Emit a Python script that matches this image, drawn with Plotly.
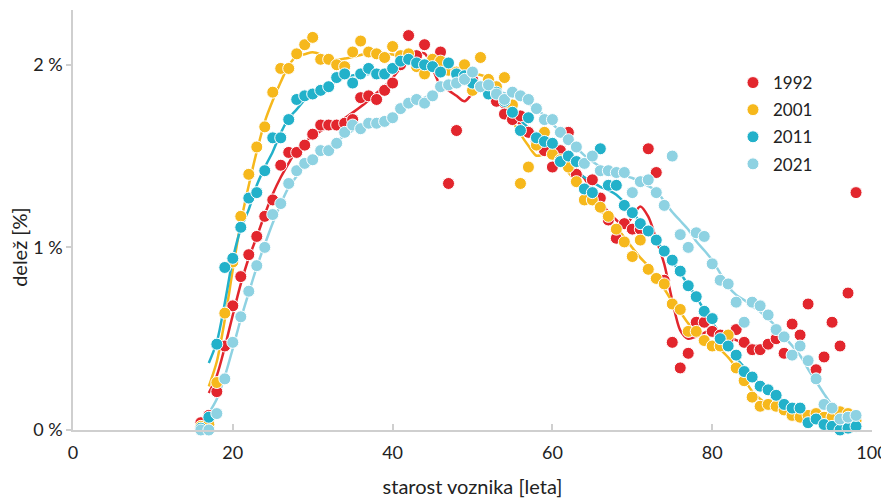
import numpy as np
import pandas as pd
import plotly.graph_objects as go

ages = list(range(16, 99))

share_1992 = [0.04, 0.08, 0.21, 0.46, 0.68, 0.84, 0.96, 1.06, 1.17, 1.26,
              1.45, 1.52, 1.52, 1.56, 1.62, 1.67, 1.67, 1.67, 1.68, 1.70,
              1.82, 1.83, 1.81, 1.86, 1.90, 2.00, 2.16, 2.05, 2.11, 2.03,
              2.07, 1.35, 1.64, 1.93, 1.92, 1.88, 1.85, 1.80, 1.73, 1.70,
              1.72, 1.63, 1.58, 1.53, 1.44, 1.53, 1.63, 1.40, 1.32, 1.37,
              1.27, 1.15, 1.05, 1.13, 1.10, 1.10, 1.54, 1.41, 0.82, 0.48,
              0.34, 0.42, 0.59, 0.59, 0.54, 0.52, 0.50, 0.55, 0.48, 0.44,
              0.44, 0.47, 0.50, 0.42, 0.58, 0.52, 0.69, 0.33, 0.40, 0.59,
              0.46, 0.75, 1.30]

share_2001 = [0.02, 0.03, 0.26, 0.64, 0.92, 1.17, 1.40, 1.55, 1.66, 1.85,
              1.98, 1.98, 2.06, 2.11, 2.15, 2.03, 2.03, 2.00, 1.99, 2.07,
              2.13, 2.07, 2.06, 2.04, 2.10, 2.05, 2.06, 1.99, 1.95, 2.03,
              2.02, 1.97, 1.96, 2.00, 1.86, 2.04, 1.92, 1.88, 1.93, 1.78,
              1.35, 1.44, 1.56, 1.63, 1.51, 1.48, 1.44, 1.36, 1.26, 1.26,
              1.22, 1.17, 1.10, 1.03, 0.95, 1.04, 0.88, 0.83, 0.80, 0.69,
              0.66, 0.54, 0.54, 0.49, 0.46, 0.46, 0.52, 0.34, 0.27, 0.18,
              0.13, 0.14, 0.13, 0.11, 0.08, 0.07, 0.08, 0.09, 0.07, 0.07,
              0.10, 0.09, 0.05]

share_2011 = [0.01, 0.07, 0.47, 0.89, 0.94, 1.11, 1.27, 1.30, 1.42, 1.60,
              1.60, 1.70, 1.81, 1.83, 1.84, 1.86, 1.88, 1.93, 1.95, 1.90,
              1.95, 1.98, 1.95, 1.95, 1.98, 2.02, 2.03, 2.01, 2.00, 1.99,
              1.96, 2.01, 1.95, 1.94, 1.90, 1.88, 1.84, 1.85, 1.80, 1.74,
              1.64, 1.71, 1.60, 1.58, 1.57, 1.47, 1.50, 1.47, 1.32, 1.30,
              1.54, 1.34, 1.34, 1.23, 1.19, 1.13, 1.09, 1.04, 0.98, 0.93,
              0.87, 0.79, 0.73, 0.65, 0.61, 0.50, 0.46, 0.41, 0.32, 0.29,
              0.24, 0.22, 0.19, 0.14, 0.12, 0.12, 0.04, 0.06, 0.03, 0.02,
              0.00, 0.01, 0.02]

share_2021 = [0.00, 0.00, 0.09, 0.28, 0.48, 0.62, 0.76, 0.90, 1.00, 1.18,
              1.24, 1.35, 1.42, 1.46, 1.48, 1.53, 1.53, 1.57, 1.63, 1.67,
              1.65, 1.68, 1.68, 1.69, 1.71, 1.76, 1.79, 1.81, 1.79, 1.83,
              1.88, 1.89, 1.90, 1.92, 1.96, 1.88, 1.89, 1.84, 1.81, 1.85,
              1.83, 1.81, 1.76, 1.70, 1.70, 1.63, 1.59, 1.55, 1.46, 1.50,
              1.42, 1.42, 1.41, 1.41, 1.30, 1.36, 1.37, 1.30, 1.23, 1.50,
              1.07, 1.00, 1.08, 1.06, 0.91, 0.82, 0.80, 0.70, 0.59, 0.70,
              0.68, 0.63, 0.55, 0.51, 0.41, 0.46, 0.38, 0.28, 0.14, 0.12,
              0.06, 0.07, 0.08]

years = ["1992", "2001", "2011", "2021"]
colors = ["#E2262D", "#F6B81C", "#22B1CA", "#8ED2E2"]
series = [share_1992, share_2001, share_2011, share_2021]
trend_end = [87, 97, 97, 97]

x_ticks = [0, 20, 40, 60, 80, 100]
y_ticks = [0, 1, 2]
y_tick_text = ["0 %", "1 %", "2 %"]

fig = go.Figure()
font_family = "Lato, 'Open Sans', sans-serif"

# trend lines (robust running smoother) underneath all markers
for yr, col, vals, end in zip(years, colors, series, trend_end):
    s = pd.Series(vals, index=ages)
    med = s.rolling(3, center=True, min_periods=2).median()
    smooth = med.rolling(5, center=True, min_periods=3).mean().loc[17:end]
    fig.add_trace(go.Scatter(
        x=list(smooth.index), y=list(smooth.values), mode="lines",
        line=dict(color=col, width=2.5, shape="spline", smoothing=0.8),
        showlegend=False, hoverinfo="skip", legendgroup=yr,
    ))

for yr, col, vals in zip(years, colors, series):
    fig.add_trace(go.Scatter(
        x=ages, y=vals, mode="markers", name=yr, legendgroup=yr,
        marker=dict(color=col, size=12, line=dict(color="white", width=1)),
        cliponaxis=False,
    ))

axis_col = "#cfcfcf"
fig.update_layout(
    width=881, height=490,
    margin=dict(l=65, r=17, t=2, b=68, autoexpand=False),
    plot_bgcolor="white", paper_bgcolor="white",
    font=dict(family=font_family, size=16, color="#222"),
    xaxis=dict(
        range=[0, 100], tickvals=x_ticks, automargin=False,
        ticks="inside", ticklen=6, tickcolor=axis_col, tickwidth=1.5,
        showline=True, linecolor=axis_col, linewidth=1.5,
        showgrid=False, zeroline=False, ticklabelstandoff=6,
        tickfont=dict(size=18, color="#222"),
        title=dict(text="starost voznika [leta]", font=dict(size=20, color="#222"), standoff=18),
    ),
    yaxis=dict(
        range=[0, 2.30], tickvals=y_ticks, ticktext=y_tick_text, automargin=False,
        ticks="outside", ticklen=5, tickcolor=axis_col, tickwidth=1.5,
        showline=True, linecolor=axis_col, linewidth=1.5,
        showgrid=False, zeroline=False,
        tickfont=dict(size=18, color="#222"),
    ),
    legend=dict(
        x=0.826, y=0.869, xanchor="left", yanchor="top",
        traceorder="grouped", tracegroupgap=2,
        font=dict(size=17, color="#222"),
        bgcolor="rgba(0,0,0,0)",
    ),
    annotations=[dict(
        text="delež [%]", textangle=-90, xref="paper", yref="paper",
        x=-0.0676, y=0.436, xanchor="center", yanchor="middle",
        showarrow=False, font=dict(size=20, color="#222"),
    )],
)

fig.write_html("out.html")
